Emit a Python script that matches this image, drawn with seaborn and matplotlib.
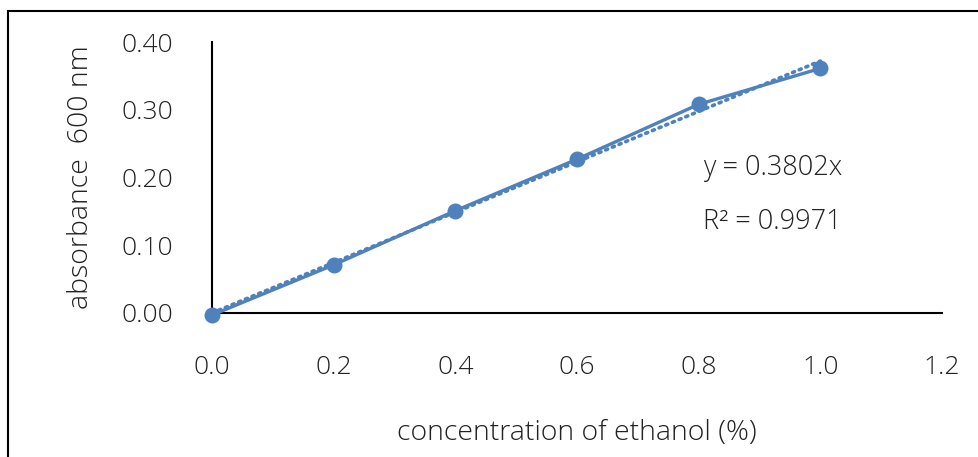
import matplotlib
matplotlib.use("Agg")
import matplotlib.pyplot as plt
from matplotlib.patches import Rectangle
import seaborn as sns
import pandas as pd
import numpy as np

concentration = [0.0, 0.2, 0.4, 0.6, 0.8, 1.0]
absorbance = [-0.003, 0.071, 0.151, 0.227, 0.308, 0.361]
equation_label = "y = 0.3802x"
r2_label = "R² = 0.9971"
x_ticks = [0.0, 0.2, 0.4, 0.6, 0.8, 1.0, 1.2]
y_ticks = [0.00, 0.10, 0.20, 0.30, 0.40]

sns.set_theme(style="white")
plt.rcParams['font.family'] = ['Open Sans', 'DejaVu Sans']
plt.rcParams['font.weight'] = 'light'
plt.rcParams['axes.labelweight'] = 'light'

color = "#4F81BD"
tc = "#222222"
fs_tick = 19
fs_label = 20.5
fs_text = 19.5
df = pd.DataFrame({"x": concentration, "y": absorbance})
xa = np.array(concentration)
ya = np.array(absorbance)
fit_slope = float((xa * ya).sum() / (xa * xa).sum())
trend = pd.DataFrame({"x": [concentration[0], concentration[-1]]})
trend["y"] = fit_slope * trend["x"]

fig = plt.figure(figsize=(9.79, 4.57), dpi=100)
ax = fig.add_axes([212/979, 1-313/457, (942-212)/979, (313-42)/457])

sns.lineplot(data=trend, x="x", y="y", ax=ax, color=color, lw=2.6,
             linestyle=(0, (0.6, 1.4)), dash_capstyle="round", zorder=2)
sns.lineplot(data=df, x="x", y="y", ax=ax, color=color, lw=2.4,
             marker="o", markersize=11.5, markeredgewidth=0, zorder=3)
for ln in ax.lines:
    ln.set_clip_on(False)

ax.set_xlim(0, 1.2)
ax.set_ylim(0, 0.40)
ax.set_xticks(x_ticks)
ax.set_xticklabels([f"{v:.1f}" for v in x_ticks])
ax.set_yticks(y_ticks)
ax.set_yticklabels([f"{v:.2f}" for v in y_ticks])
ax.tick_params(axis="x", length=0, pad=30, labelsize=fs_tick, colors=tc)
ax.tick_params(axis="y", length=0, pad=28, labelsize=fs_tick, colors=tc)
for s in ["top", "right"]:
    ax.spines[s].set_visible(False)
for s in ["left", "bottom"]:
    ax.spines[s].set_color("black")
    ax.spines[s].set_linewidth(1.5)
    ax.spines[s].set_zorder(1)
ax.patch.set_alpha(0)

ax.set_xlabel("concentration of ethanol (%)", fontsize=fs_label, color=tc, labelpad=28)
ax.set_ylabel("absorbance  600 nm", fontsize=fs_label, color=tc, labelpad=19)

ax.text(0.807, 0.214, equation_label, fontsize=fs_text, color=tc, va="center", ha="left")
ax.text(0.807, 0.134, r2_label, fontsize=fs_text, color=tc, va="center", ha="left")

fig.patches.append(Rectangle((8/979, -0.5), 2, (1-11/457)+0.5, fill=False,
                             lw=1.5, edgecolor="black", transform=fig.transFigure, figure=fig))

fig.savefig("out.png", dpi=100)
